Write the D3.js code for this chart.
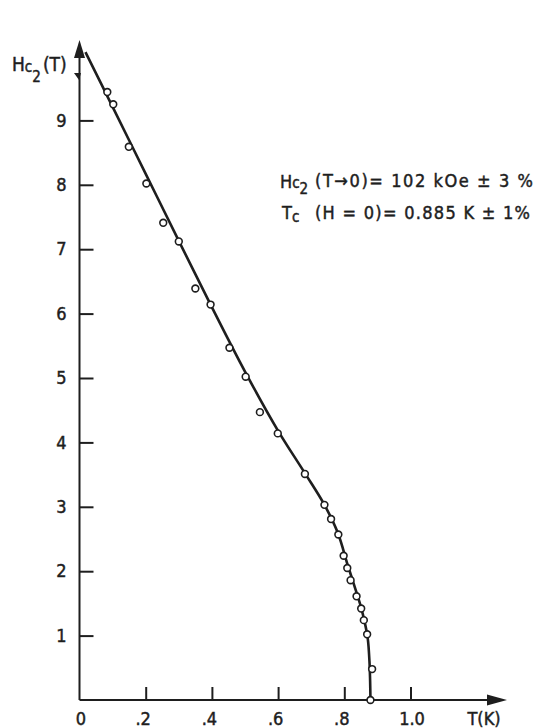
<!DOCTYPE html>
<html>
<head>
<meta charset="utf-8">
<script src="https://cdn.jsdelivr.net/npm/d3@7"></script>
<style>
  html, body { margin: 0; padding: 0; background: #fff; }
  svg { display: block; }
  text { font-family: "DejaVu Sans Condensed", "DejaVu Sans", sans-serif; fill: #1e1e1e;
         stroke: #1e1e1e; stroke-width: 0.45px; }
</style>
</head>
<body>
<svg id="chart" width="537" height="728"></svg>
<script>
// measured points (T in K, Hc2 in units of 10 kOe)
const pointT = [0.084, 0.102, 0.149, 0.202, 0.253, 0.300, 0.350, 0.396, 0.453, 0.502, 0.545, 0.599,
                0.681, 0.740, 0.760, 0.782, 0.798, 0.809, 0.819, 0.837, 0.851, 0.859, 0.869, 0.884, 0.879];
const pointH = [9.44, 9.25, 8.59, 8.02, 7.41, 7.12, 6.39, 6.14, 5.47, 5.02, 4.47, 4.14,
                3.51, 3.03, 2.81, 2.57, 2.24, 2.05, 1.86, 1.61, 1.42, 1.24, 1.02, 0.48, 0.0];
// fitted curve
const curveT = [0.018, 0.1, 0.2, 0.3, 0.396, 0.5, 0.6, 0.68, 0.74, 0.78, 0.81, 0.83, 0.85, 0.862, 0.871, 0.876, 0.878, 0.879];
const curveH = [10.06, 9.21, 8.17, 7.13, 6.14, 5.1, 4.18, 3.53, 3.03, 2.6, 2.1, 1.78, 1.45, 1.2, 0.95, 0.6, 0.3, 0.0];
// ticks
const xTicks = [0, 0.2, 0.4, 0.6, 0.8, 1.0];
const xTickLabels = ["0", ".2", ".4", ".6", ".8", "1.0"];
const yTicks = [1, 2, 3, 4, 5, 6, 7, 8, 9];

const svg = d3.select("#chart");
const x = d3.scaleLinear().domain([0, 1]).range([79.5, 410.5]);
const y = d3.scaleLinear().domain([0, 10]).range([700, 56]);
const ink = "#1e1e1e";
const font = '"DejaVu Sans Condensed", "DejaVu Sans", sans-serif';

// axes lines with arrows
svg.append("line").attr("x1", x(0)).attr("x2", x(0)).attr("y1", y(0)).attr("y2", 50)
  .attr("stroke", ink).attr("stroke-width", 2);
svg.append("line").attr("x1", x(0)).attr("x2", 492).attr("y1", y(0)).attr("y2", y(0))
  .attr("stroke", ink).attr("stroke-width", 2);
svg.append("path").attr("d", `M${x(0)},40 L${x(0) - 5.5},58 L${x(0) + 5.5},58 Z`).attr("fill", ink);
svg.append("path").attr("d", `M507,${y(0)} L487,${y(0) - 5.5} L487,${y(0) + 5.5} Z`).attr("fill", ink);

// y axis ticks (inward)
const yAxis = d3.axisLeft(y).tickValues(yTicks).tickSize(-14).tickPadding(13).tickFormat(d3.format("d"));
const gy = svg.append("g").attr("transform", `translate(${x(0)},0)`).call(yAxis);
gy.select(".domain").remove();
gy.selectAll(".tick line").attr("stroke", ink).attr("stroke-width", 2);
gy.selectAll(".tick text").attr("font-size", 18).attr("fill", ink).style("font-family", font);

// x axis ticks (inward)
const xAxis = d3.axisBottom(x).tickValues(xTicks).tickSize(-13)
  .tickFormat((d, i) => xTickLabels[i]);
const gx = svg.append("g").attr("transform", `translate(0,${y(0)})`).call(xAxis);
gx.select(".domain").remove();
gx.selectAll(".tick line").attr("stroke", ink).attr("stroke-width", 2)
  .attr("opacity", d => d === 0 ? 0 : 1);
gx.selectAll(".tick text").attr("font-size", 18).attr("fill", ink).style("font-family", font)
  .attr("y", 25).attr("dy", 0)
  .attr("dx", (d, i) => xTickLabels[i].startsWith(".") ? -3 : 1);

// x axis title
svg.append("text").attr("x", 484).attr("y", 725).attr("text-anchor", "middle")
  .attr("font-size", 18).text("T(K)");

// y axis title H_c2(T)
const yl = svg.append("text").attr("x", 12).attr("y", 71).attr("font-size", 19);
yl.append("tspan").text("H");
yl.append("tspan").attr("font-size", 15).attr("dy", 1).text("c");
yl.append("tspan").attr("font-size", 15).attr("dy", 10).text("2");
yl.append("tspan").attr("dy", -11).attr("dx", 2).text("(T)");
svg.append("path").attr("d", "M74,73 L81,73 L79,80 Z").attr("fill", ink);

// fitted curve
const line = d3.line().x(d => x(d[0])).y(d => y(d[1])).curve(d3.curveCatmullRom.alpha(0.5));
svg.append("path").datum(curveT.map((t, i) => [t, curveH[i]]))
  .attr("d", line).attr("fill", "none").attr("stroke", ink).attr("stroke-width", 2.6);

// data points
svg.append("g").selectAll("circle").data(pointT.map((t, i) => [t, pointH[i]])).join("circle")
  .attr("cx", d => x(d[0])).attr("cy", d => y(d[1])).attr("r", 3.4)
  .attr("fill", "#fff").attr("stroke", ink).attr("stroke-width", 1.6);

// annotation
const a1 = svg.append("text").attr("x", 280).attr("y", 188).attr("font-size", 18);
a1.append("tspan").text("H");
a1.append("tspan").attr("font-size", 15).attr("dy", 0).text("c");
a1.append("tspan").attr("font-size", 15).attr("dy", 6).text("2");
svg.append("text").attr("x", 315).attr("y", 187).attr("font-size", 18)
  .attr("textLength", 218).attr("lengthAdjust", "spacing")
  .text("(T→0)= 102 kOe ± 3 %");
const a2 = svg.append("text").attr("x", 282).attr("y", 219).attr("font-size", 18);
a2.append("tspan").text("T");
a2.append("tspan").attr("font-size", 15).attr("dy", 3).text("c");
svg.append("text").attr("x", 315).attr("y", 219).attr("font-size", 18)
  .attr("textLength", 215).attr("lengthAdjust", "spacing")
  .text("(H = 0)= 0.885 K ± 1%");
</script>
</body>
</html>
